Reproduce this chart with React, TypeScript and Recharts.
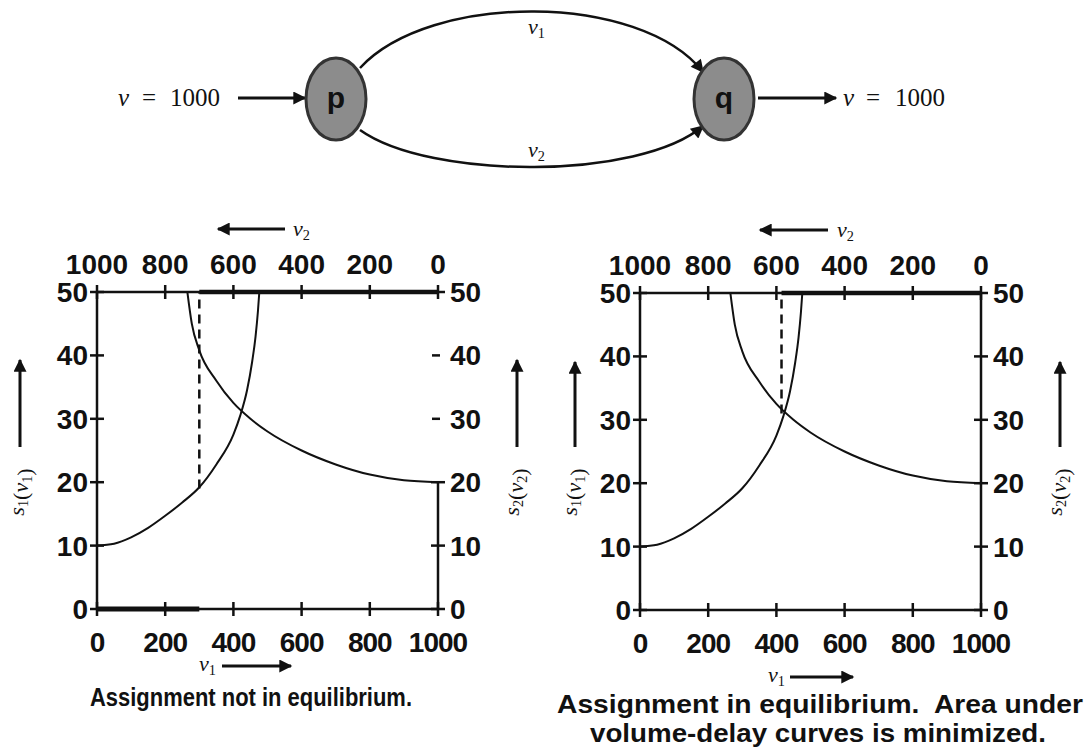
import React from "react";
import { LineChart, Line, XAxis, YAxis, ReferenceLine } from "recharts";

// axis ticks
const v1Ticks = [0, 200, 400, 600, 800, 1000];
const v2Ticks = [1000, 800, 600, 400, 200, 0];
const sTicks = [0, 10, 20, 30, 40, 50];

// volume-delay curve of link 1, s1 against v1
const s1Curve = [
  { v1: 0, s1: 10 },
  { v1: 50, s1: 10.3 },
  { v1: 100, s1: 11.3 },
  { v1: 150, s1: 12.8 },
  { v1: 200, s1: 14.7 },
  { v1: 250, s1: 16.8 },
  { v1: 300, s1: 19.2 },
  { v1: 350, s1: 22.8 },
  { v1: 400, s1: 27.5 },
  { v1: 420, s1: 30.5 },
  { v1: 440, s1: 34.5 },
  { v1: 455, s1: 39 },
  { v1: 465, s1: 43 },
  { v1: 472, s1: 47 },
  { v1: 476, s1: 50 },
];

// volume-delay curve of link 2, s2 against v2
const s2Curve = [
  { v2: 0, s2: 20 },
  { v2: 100, s2: 20.3 },
  { v2: 200, s2: 21.2 },
  { v2: 300, s2: 22.8 },
  { v2: 400, s2: 25 },
  { v2: 500, s2: 28 },
  { v2: 550, s2: 30 },
  { v2: 600, s2: 32.5 },
  { v2: 650, s2: 36 },
  { v2: 700, s2: 40.8 },
  { v2: 722, s2: 45 },
  { v2: 735, s2: 50 },
];

// the two assignments: v1 on link 1, and the delay where the dashed line stops
const assignedV1 = [300, 415];
const dashFrom = [19, 31];
const captions = [
  ["Assignment not in equilibrium."],
  ["Assignment in equilibrium.  Area under", "volume-delay curves is minimized."],
];

const INK = "#111";
const sans = "'Liberation Sans', Arial, Helvetica, sans-serif";
const serif = "'Liberation Serif', 'Times New Roman', serif";

function AxisTick(props: any) {
  const { x = 0, y = 0, payload, side, half = [] } = props;
  const v = payload?.value;
  const font = { fontFamily: sans, fontWeight: 700, fontSize: 28, fill: INK };
  if (side === "left") {
    return (
      <g>
        <line x1={x - 7} x2={x + 7} y1={y} y2={y} stroke={INK} strokeWidth={2.5} />
        <text x={x - 9} y={y + 10} textAnchor="end" {...font}>{v}</text>
      </g>
    );
  }
  if (side === "right") {
    const isHalf = half.includes(v);
    return (
      <g>
        <line x1={x - (isHalf ? 6 : 7)} x2={x + (isHalf ? 2 : 7)} y1={y} y2={y} stroke={INK} strokeWidth={2.5} />
        <text x={x + 12} y={y + 10} textAnchor="start" {...font}>{v}</text>
      </g>
    );
  }
  if (side === "top") {
    return (
      <g>
        <line x1={x} x2={x} y1={y - 7} y2={y + 7} stroke={INK} strokeWidth={2.5} />
        <text x={x} y={y - 18} textAnchor="middle" {...font}>{v}</text>
      </g>
    );
  }
  return (
    <g>
      <line x1={x} x2={x} y1={y - 7} y2={y + 7} stroke={INK} strokeWidth={2.5} />
      <text x={x} y={y + 43} textAnchor="middle" {...font} letterSpacing={-1}>{v}</text>
    </g>
  );
}

function Panel({ idx, left, top }: { idx: number; left: number; top: number }) {
  const a = assignedV1[idx];
  const axisLine = { stroke: INK, strokeWidth: 2.5 };
  const first = idx === 0;
  return (
    <div style={{ position: "absolute", left, top }}>
      <LineChart width={460} height={430} margin={{ top: 0, right: 0, bottom: 0, left: 0 }}>
        <XAxis
          xAxisId="v1"
          dataKey="v1"
          type="number"
          orientation="bottom"
          domain={[0, 1000]}
          ticks={v1Ticks}
          interval={0}
          height={61}
          tickSize={0}
          tickMargin={0}
          tickLine={false}
          axisLine={axisLine}
          tick={(p: any) => <AxisTick {...p} side="bottom" />}
        />
        <XAxis
          xAxisId="v2"
          dataKey="v2"
          type="number"
          orientation="top"
          reversed
          domain={[0, 1000]}
          ticks={v2Ticks}
          interval={0}
          height={52}
          tickSize={0}
          tickMargin={0}
          tickLine={false}
          axisLine={axisLine}
          tick={(p: any) => <AxisTick {...p} side="top" />}
        />
        <YAxis
          yAxisId="left"
          orientation="left"
          type="number"
          domain={[0, 50]}
          ticks={sTicks}
          interval={0}
          width={57}
          tickSize={0}
          tickMargin={0}
          tickLine={false}
          axisLine={axisLine}
          tick={(p: any) => <AxisTick {...p} side="left" />}
        />
        <YAxis
          yAxisId="right"
          orientation="right"
          type="number"
          domain={[0, 50]}
          ticks={sTicks}
          interval={0}
          width={62}
          tickSize={0}
          tickMargin={0}
          tickLine={false}
          axisLine={first ? false : axisLine}
          tick={(p: any) => <AxisTick {...p} side="right" half={first ? [30, 40] : []} />}
        />
        {first && (
          <ReferenceLine
            xAxisId="v1"
            yAxisId="left"
            segment={[{ x: 1000, y: 0 }, { x: 1000, y: 20 }]}
            stroke={INK}
            strokeWidth={2.5}
          />
        )}
        {first && (
          <ReferenceLine
            xAxisId="v1"
            yAxisId="left"
            segment={[{ x: 0, y: 0 }, { x: a, y: 0 }]}
            stroke={INK}
            strokeWidth={5}
          />
        )}
        <ReferenceLine
          xAxisId="v2"
          yAxisId="right"
          segment={[{ x: 0, y: 50 }, { x: 1000 - a, y: 50 }]}
          stroke={INK}
          strokeWidth={4.5}
        />
        <ReferenceLine
          xAxisId="v1"
          yAxisId="left"
          segment={[{ x: a, y: dashFrom[idx] }, { x: a, y: 50 }]}
          stroke={INK}
          strokeWidth={2.5}
          strokeDasharray="9 6"
        />
        <Line
          data={s1Curve}
          xAxisId="v1"
          yAxisId="left"
          dataKey="s1"
          type="monotone"
          stroke={INK}
          strokeWidth={2}
          dot={false}
          isAnimationActive={false}
        />
        <Line
          data={s2Curve}
          xAxisId="v2"
          yAxisId="right"
          dataKey="s2"
          type="monotone"
          stroke={INK}
          strokeWidth={2}
          dot={false}
          isAnimationActive={false}
        />
      </LineChart>
    </div>
  );
}

function Sub({ base, sub, italic = true }: { base: string; sub: string; italic?: boolean }) {
  return (
    <>
      <tspan fontStyle={italic ? "italic" : "normal"}>{base}</tspan>
      <tspan dy={4} fontSize="0.65em">{sub}</tspan>
      <tspan dy={-4}></tspan>
    </>
  );
}

function Annotations() {
  const lab = { fontFamily: serif, fontSize: 22, fill: INK };
  const arrow = { stroke: INK, strokeWidth: 3, markerEnd: "url(#ah)" };
  const s1Label = (cx: number) => (
    <text transform={`translate(${cx},492) rotate(-90)`} textAnchor="middle" {...lab}>
      <Sub base="s" sub="1" />
      <tspan>(</tspan>
      <Sub base="v" sub="1" />
      <tspan>)</tspan>
    </text>
  );
  const s2Label = (cx: number) => (
    <text transform={`translate(${cx},492) rotate(-90)`} textAnchor="middle" {...lab}>
      <Sub base="s" sub="2" />
      <tspan>(</tspan>
      <Sub base="v" sub="2" />
      <tspan>)</tspan>
    </text>
  );
  const cap = { fontFamily: sans, fontWeight: 700, fontSize: 25, fill: INK, lengthAdjust: "spacingAndGlyphs" as const };
  return (
    <svg width={1085} height={747} style={{ position: "absolute", left: 0, top: 0 }}>
      <defs>
        <marker id="ah" viewBox="0 0 10 10" refX="9" refY="5" markerUnits="userSpaceOnUse" markerWidth="15" markerHeight="13" orient="auto">
          <path d="M0,0 L10,5 L0,10 z" fill={INK} />
        </marker>
      </defs>

      {/* network p -> q */}
      <text y={106} fontFamily={serif} fontSize={25} fill={INK}>
        <tspan x={118} fontStyle="italic">v</tspan>
        <tspan x={142}>=</tspan>
        <tspan x={170}>1000</tspan>
      </text>
      <line x1={238} y1={98} x2={305} y2={98} {...arrow} />
      <path d="M 360 68 C 430 -8, 640 -8, 703 72" fill="none" stroke={INK} strokeWidth={2.5} markerEnd="url(#ah)" />
      <path d="M 360 130 C 430 180, 640 180, 703 126" fill="none" stroke={INK} strokeWidth={2.5} markerEnd="url(#ah)" />
      <ellipse cx={336} cy={99} rx={30} ry={41} fill="#8c8c8c" stroke="#333" strokeWidth={3} />
      <ellipse cx={724} cy={99} rx={30} ry={41} fill="#8c8c8c" stroke="#333" strokeWidth={3} />
      <text x={336} y={108} textAnchor="middle" fontFamily={sans} fontWeight={700} fontSize={30} fill={INK}>p</text>
      <text x={724} y={108} textAnchor="middle" fontFamily={sans} fontWeight={700} fontSize={30} fill={INK}>q</text>
      <text x={528} y={34} {...lab}><Sub base="v" sub="1" /></text>
      <text x={528} y={157} {...lab}><Sub base="v" sub="2" /></text>
      <line x1={758} y1={98} x2={836} y2={98} {...arrow} />
      <text y={106} fontFamily={serif} fontSize={25} fill={INK}>
        <tspan x={843} fontStyle="italic">v</tspan>
        <tspan x={866}>=</tspan>
        <tspan x={895}>1000</tspan>
      </text>

      {/* left panel labels */}
      <line x1={285} y1={229} x2={218} y2={229} {...arrow} />
      <text x={293} y={236} {...lab}><Sub base="v" sub="2" /></text>
      <line x1={20} y1={447} x2={20} y2={360} {...arrow} />
      {s1Label(24)}
      <line x1={517} y1={447} x2={517} y2={360} {...arrow} />
      {s2Label(519)}
      <text x={199} y={671} {...lab}><Sub base="v" sub="1" /></text>
      <line x1={222} y1={666} x2={291} y2={666} {...arrow} />
      <text x={90} y={706} textLength={322} {...cap}>{captions[0][0]}</text>

      {/* right panel labels */}
      <line x1={828} y1={230} x2={760} y2={230} {...arrow} />
      <text x={837} y={237} {...lab}><Sub base="v" sub="2" /></text>
      <line x1={575} y1={447} x2={575} y2={362} {...arrow} />
      {s1Label(577)}
      <line x1={1060} y1={447} x2={1060} y2={362} {...arrow} />
      {s2Label(1062)}
      <text x={768} y={682} {...lab}><Sub base="v" sub="1" /></text>
      <line x1={790} y1={677} x2={853} y2={677} {...arrow} />
      <text x={557} y={713} textLength={526} style={{ whiteSpace: "pre" }} {...cap}>{captions[1][0]}</text>
      <text x={590} y={742} textLength={456} {...cap}>{captions[1][1]}</text>
    </svg>
  );
}

export default function App() {
  return (
    <div style={{ position: "absolute", left: 0, top: 0, width: 1085, height: 747, background: "#fff", overflow: "hidden" }}>
      <Annotations />
      <Panel idx={0} left={40} top={240} />
      <Panel idx={1} left={583} top={241} />
    </div>
  );
}
